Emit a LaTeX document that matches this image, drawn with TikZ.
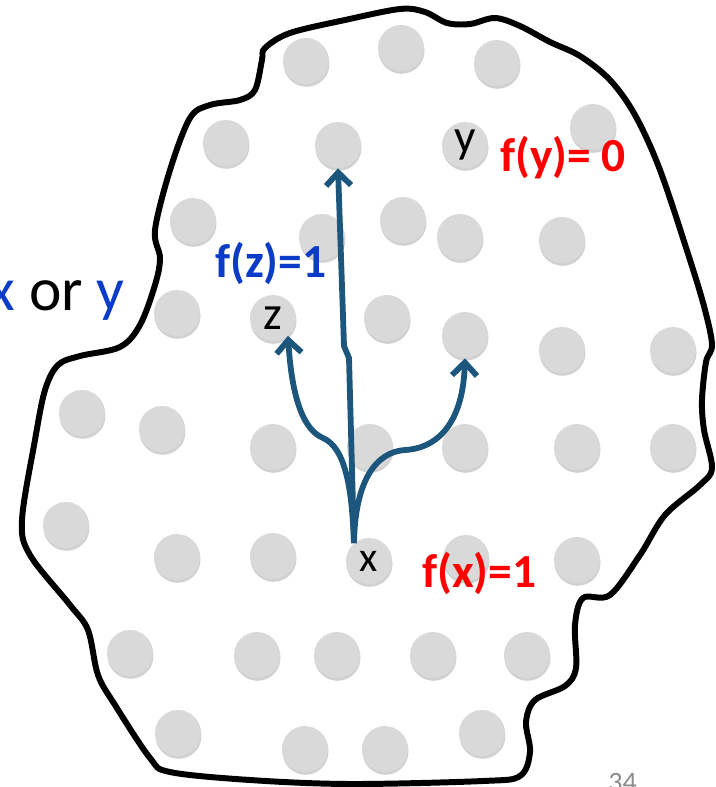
\documentclass[tikz,border=0pt]{standalone}
\usepackage{fontspec}
\setmainfont{Carlito}
\usetikzlibrary{arrows.meta, shadows}
\definecolor{dotgray}{HTML}{D9D9D9}
\definecolor{pathblue}{HTML}{1C567C}
\definecolor{labelblue}{HTML}{0A3CC8}
\definecolor{labelred}{HTML}{FF0000}
\tikzset{
  dot/.style={circle, fill=dotgray, minimum size=0.92cm, inner sep=0pt,
    drop shadow={shadow xshift=0.3pt, shadow yshift=-1.6pt, opacity=0.3, fill=black!60}},
  walk/.style={-{Straight Barb[length=2.6mm, width=5mm]}, line width=3.3pt, color=pathblue},
  region/.style={line width=3.4pt, color=black},
  fval/.style={font=\fontsize{27}{30}\selectfont\bfseries, inner sep=0pt},
}

\begin{document}
\begin{tikzpicture}[x=0.02cm, y=-0.02cm]
\useasboundingbox (0,0) rectangle (716,787);

% the points of the space
\foreach \p [count=\n] in {(306,61),(401,48),(497,63),
    (226,143),(593,127),
    (193,221),(322,237),(403,220),(460,237),(562,240),
    (177,313),(387,318),(562,350),(673,350),
    (82,413),(162,429),(273,447),(370,447),(465,447),(577,447),(673,447),
    (66,525),(177,557),(273,556),(466,558),(577,560),
    (130,653),(257,655),(337,655),(433,655),(527,655),
    (178,733),(305,749),(385,749),(482,733)}
  \node[dot] (d\n) at \p {};

\node[dot, font=\fontsize{27}{30}\selectfont] (top) at (338,145) {};
\node[dot, font=\fontsize{27}{30}\selectfont] (y) at (465,145) {y};
\node[dot, font=\fontsize{27}{30}\selectfont] (z) at (273,318) {z};
\node[dot] (r) at (465,335) {};
\node[dot, font=\fontsize{24}{28}\selectfont] (x) at (369,561) {x};

% outline of the region
\draw[region] plot[smooth cycle, tension=0.55] coordinates {
  (265,48) (290,33) (345,20) (400,9) (425,12) (447,23) (470,24) (495,18)
  (520,26) (550,42) (580,56) (610,80) (635,115) (660,170) (690,260)
  (705,310) (712,345) (706,362) (702,400) (704,430) (712,468) (700,485)
  (665,515) (640,555) (610,595) (583,598) (575,625) (576,668) (565,686)
  (535,700) (526,722) (530,752) (520,776) (483,781) (350,784) (250,780)
  (170,772) (150,758) (115,705) (98,675) (88,630) (70,605) (30,555)
  (22,520) (35,440) (45,390) (58,365) (80,356) (120,347) (140,325)
  (155,285) (160,258) (155,230) (170,170) (190,118) (210,105) (240,100)
  (255,90) (262,60)};

% walks from x
\draw[walk] (x.130) .. controls (352,490) and (346,448) .. (323,438)
  .. controls (304,430) and (292,400) .. (z.-50);
\draw[walk] (x.130) -- (349,358) -- (344,346) -- (top.south);
\draw[walk] (x.130) .. controls (355,482) and (375,452) .. (405,450)
  .. controls (440,448) and (463,420) .. (r.south);

\node[anchor=base east, inner sep=0pt, font=\fontsize{35}{40}\selectfont] (xory) at (125,310)
  {\textcolor{labelblue}{x} or \textcolor{labelblue}{y}};
\node[fval, labelred, anchor=base west] (fy) at (500,172) {f(y)= 0};
\node[fval, labelblue, anchor=base west] (fz) at (215,277) {f(z)=1};
\node[fval, labelred, anchor=base west] (fx) at (422,587) {f(x)=1};
\node[anchor=base west, inner sep=0pt, text=black!45, font=\fontsize{16}{18}\selectfont] (page) at (608,791) {34};
\end{tikzpicture}
\end{document}
